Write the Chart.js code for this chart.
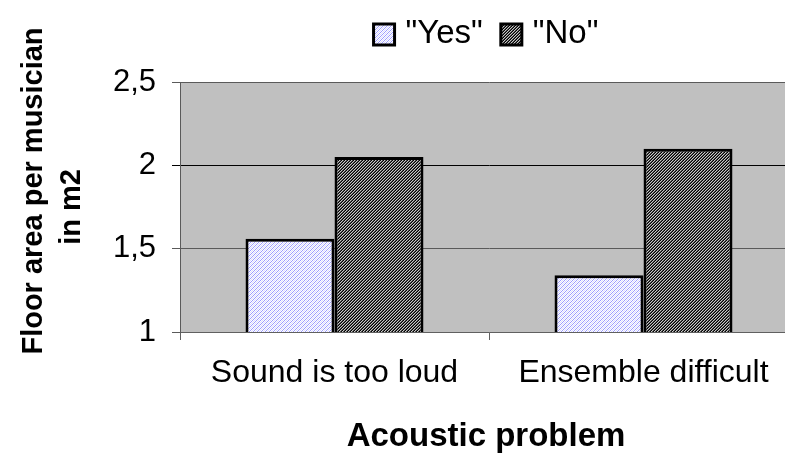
<!DOCTYPE html>
<html>
<head>
<meta charset="utf-8">
<script src="https://cdn.jsdelivr.net/npm/chart.js@4.4.1/dist/chart.umd.min.js"></script>
<style>
  html, body { margin: 0; padding: 0; background: #fff; overflow: hidden; }
  #wrap { width: 800px; height: 456px; }
</style>
</head>
<body>
<div id="wrap"><canvas id="chart"></canvas></div>
<script>
// Chart data
const categories = ['Sound is too loud', 'Ensemble difficult'];
const seriesNames = ['"Yes"', '"No"'];
const yesValues = [1.56, 1.34];
const noValues = [2.05, 2.10];
const yTicks = [1, 1.5, 2, 2.5];
const yTitle = ['Floor area per musician', 'in m2'];
const xTitle = 'Acoustic problem';

const font = 'Arial, "Liberation Sans", sans-serif';

// Small hatch patterns, like the old office fills
function makePattern(size, paint) {
    const c = document.createElement('canvas');
    c.width = size;
    c.height = size;
    const g = c.getContext('2d');
    for (let x = 0; x < size; x++) {
        for (let y = 0; y < size; y++) {
            g.fillStyle = paint(x, y);
            g.fillRect(x, y, 1, 1);
        }
    }
    return g.createPattern(c, 'repeat');
}

const yesFill = makePattern(4, (x, y) => ((x + y) % 4 === 0 ? '#9c9cff' : (x + y) % 4 === 2 ? '#dcdcff' : '#ffffff'));
const noFill = makePattern(3, (x, y) => ((x + y) % 3 === 0 ? '#000000' : (x + y) % 3 === 1 ? '#c8c8c8' : '#505050'));

const plotBackground = {
    id: 'plotBackground',
    beforeDraw(chart) {
        const { ctx, chartArea } = chart;
        ctx.save();
        ctx.fillStyle = '#c0c0c0';
        ctx.fillRect(chartArea.left, chartArea.top, chartArea.right - chartArea.left, chartArea.bottom - chartArea.top);
        ctx.restore();
    }
};

// Titles and legend drawn by hand so they sit where the old chart had them
const decorations = {
    id: 'decorations',
    afterDraw(chart) {
        const { ctx, chartArea } = chart;
        const midX = (chartArea.left + chartArea.right) / 2 - 3;
        ctx.save();
        ctx.fillStyle = '#000';

        // y title, two rotated lines
        ctx.font = 'bold 29px ' + font;
        ctx.textAlign = 'center';
        ctx.textBaseline = 'alphabetic';
        const lineCentres = [[42, 191], [80, 207]];
        yTitle.forEach((line, i) => {
            ctx.save();
            ctx.translate(lineCentres[i][0], lineCentres[i][1]);
            ctx.rotate(-Math.PI / 2);
            ctx.fillText(line, 0, 0);
            ctx.restore();
        });

        // x title
        ctx.font = 'bold 33px ' + font;
        ctx.fillText(xTitle, midX, 446);

        // legend
        ctx.font = '33px ' + font;
        const box = 21, gap = 11, space = 18;
        const widths = seriesNames.map(n => ctx.measureText(n).width);
        const total = widths.reduce((a, w) => a + box + gap + w, 0) + space;
        let x = midX - total / 2;
        const fills = [yesFill, noFill];
        seriesNames.forEach((name, i) => {
            ctx.fillStyle = fills[i];
            ctx.fillRect(x, 24, box, box);
            ctx.strokeStyle = '#000';
            ctx.lineWidth = 3;
            ctx.strokeRect(x, 24, box, box);
            ctx.fillStyle = '#000';
            ctx.textAlign = 'left';
            ctx.fillText(name, x + box + gap, 43);
            x += box + gap + widths[i] + space;
        });
        ctx.restore();
    }
};

new Chart(document.getElementById('chart'), {
    type: 'bar',
    data: {
        labels: categories,
        datasets: [
            {
                label: seriesNames[0],
                data: yesValues,
                backgroundColor: yesFill,
                borderColor: '#000',
                borderWidth: 3,
                borderSkipped: false
            },
            {
                label: seriesNames[1],
                data: noValues,
                backgroundColor: noFill,
                borderColor: '#000',
                borderWidth: 3,
                borderSkipped: false
            }
        ]
    },
    options: {
        responsive: true,
        maintainAspectRatio: false,
        animation: false,
        layout: { padding: { top: 82, right: 2 } },
        datasets: {
            bar: { categoryPercentage: 0.576, barPercentage: 1 }
        },
        plugins: {
            legend: { display: false },
            tooltip: { enabled: false }
        },
        scales: {
            x: {
                offset: true,
                grid: {
                    offset: true,
                    drawOnChartArea: false,
                    tickLength: 8,
                    color: '#606060'
                },
                border: { color: '#606060', width: 1 },
                ticks: {
                    font: { family: font, size: 32 },
                    color: '#000',
                    padding: 14,
                    maxRotation: 0
                },
                afterFit(scale) { scale.height = 124; }
            },
            y: {
                min: 1,
                max: 2.5,
                afterBuildTicks(scale) {
                    scale.ticks = yTicks.map(v => ({ value: v }));
                },
                grid: {
                    tickLength: 8,
                    color: ctx => (ctx.tick && ctx.tick.value === 2 ? '#000' : '#5a5a5a')
                },
                border: { color: '#5a5a5a', width: 1 },
                ticks: {
                    font: { family: font, size: 31 },
                    color: '#000',
                    padding: 16,
                    callback: v => String(v).replace('.', ',')
                },
                afterFit(scale) { scale.width = 180; }
            }
        }
    },
    plugins: [plotBackground, decorations]
});
</script>
</body>
</html>
